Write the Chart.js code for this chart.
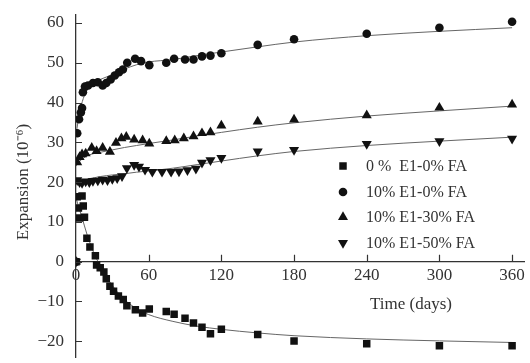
<!DOCTYPE html>
<html>
<head>
<meta charset="utf-8">
<script src="https://cdn.jsdelivr.net/npm/chart.js@4.4.1/dist/chart.umd.min.js"></script>
<style>
  html, body { margin: 0; padding: 0; background: #fff; }
</style>
</head>
<body>
<canvas id="expChart" width="530" height="363"></canvas>
<script>
// measured expansion, 10^-6, against age in days
const seriesLabels = ["0 %  E1-0% FA", "10% E1-0% FA", "10% E1-30% FA", "10% E1-50% FA"];

const sqDays = [0, 1, 2, 3, 5, 6, 7, 9, 11.5, 16, 17, 20, 23, 25, 28, 31, 35, 39, 42, 49, 55, 60.5, 74.5, 81, 90, 97, 104, 111, 120, 150, 180, 240, 300, 360];
const sqVals = [0, 16.3, 13.5, 11, 16.5, 14, 11.2, 5.9, 3.7, 1.5, -0.8, -1.5, -2.6, -4.3, -6.2, -7.4, -8.6, -9.5, -11.1, -12.1, -12.9, -11.9, -12.5, -13.2, -14.2, -15.4, -16.5, -18.1, -17, -18.3, -19.9, -20.6, -21.1, -21.1];

const ciDays = [0, 1, 2.5, 4, 5, 5.7, 7.4, 10, 14, 18, 22, 25, 28.6, 32, 35.5, 38.7, 42.3, 48.8, 53.7, 60.5, 74.5, 81, 90, 97, 104, 111, 120, 150, 180, 240, 300, 360];
const ciVals = [0, 32.3, 35.8, 37.5, 38.6, 42.6, 44, 44.3, 44.9, 45.1, 44.3, 44.9, 45.8, 46.8, 47.6, 48.3, 50, 51, 50.4, 49.4, 50, 51, 50.8, 50.8, 51.6, 51.8, 52.4, 54.5, 55.9, 57.3, 58.8, 60.3];

const upDays = [0, 1, 3, 5, 8, 13, 17, 22, 28, 33, 37.5, 41.5, 48, 55, 60.5, 74.5, 81.5, 89, 97, 104, 111, 120, 150, 180, 240, 300, 360];
const upVals = [0, 25, 26.3, 27, 27.2, 28.6, 27.8, 28.6, 27.6, 29.9, 31, 31.4, 30.7, 30.5, 29.7, 30.3, 30.5, 31, 31.5, 32.3, 32.5, 34.2, 35.2, 35.7, 36.8, 38.7, 39.5];

const dnDays = [0, 1, 3, 5, 8, 11, 14, 18, 22, 26, 30, 34, 38, 42, 48, 52, 57, 63, 71, 78.5, 85, 92, 99, 104, 111, 120, 150, 180, 240, 300, 360];
const dnVals = [0, 20.5, 20, 19.8, 20.2, 20, 20.3, 20.4, 20.6, 20.5, 20.8, 21, 21.5, 23.5, 24.3, 23.9, 23.1, 22.6, 22.6, 22.6, 22.7, 23, 23.4, 24.9, 25.5, 26.1, 27.7, 28.1, 29.6, 30.3, 30.9];

// fitted trend lines
const fitDays = [0, 3, 6, 10, 15, 20, 30, 40, 50, 60, 80, 100, 120, 150, 180, 240, 300, 360];
const fitSq = [16, 13, 10, 6, 2, -1, -6, -9.5, -11.8, -13.3, -15, -16.2, -17, -17.9, -18.6, -19.4, -19.9, -20.3];
const fitCi = [32, 37.5, 41, 43.5, 45, 45.8, 47, 48.4, 49.5, 50.2, 50.8, 51.8, 52.7, 54, 55.2, 56.8, 57.9, 58.8];
const fitUp = [24, 25.2, 26, 26.7, 27.2, 27.5, 28.1, 28.7, 29.2, 29.7, 30.6, 31.6, 32.5, 33.8, 34.9, 36.6, 37.9, 39.1];
const fitDn = [19.5, 20, 20.4, 20.8, 21.1, 21.4, 21.8, 22.1, 22.5, 22.8, 23.5, 24.4, 25.3, 26.6, 27.7, 29.2, 30.3, 31.3];

const xTicks = [0, 60, 120, 180, 240, 300, 360];
const yTicks = [-20, -10, 0, 10, 20, 30, 40, 50, 60];

const ink = "#111";
const textColor = "#333";
const serif = "'Liberation Serif', 'Times New Roman', serif";

const toPoints = (xs, ys) => xs.map((x, i) => ({ x: x, y: ys[i] }));

const markerStyles = [
  { pointStyle: "rect", radius: 5.3, rotation: 0 },
  { pointStyle: "circle", radius: 4.3, rotation: 0 },
  { pointStyle: "triangle", radius: 5.8, rotation: 0 },
  { pointStyle: "triangle", radius: 5.8, rotation: 180 },
];

function markerSet(label, xs, ys, m) {
  return {
    type: "scatter",
    label: label,
    data: toPoints(xs, ys),
    pointStyle: m.pointStyle,
    pointRadius: m.radius,
    pointRotation: m.rotation,
    pointBackgroundColor: ink,
    pointBorderColor: ink,
    pointBorderWidth: 0,
    showLine: false,
    order: 0,
  };
}

function fitSet(ys) {
  return {
    type: "line",
    label: "",
    data: toPoints(fitDays, ys),
    borderColor: "#666",
    borderWidth: 1,
    pointRadius: 0,
    cubicInterpolationMode: "monotone",
    fill: false,
    order: 1,
  };
}

const annotations = {
  id: "annotations",
  afterDraw(chart) {
    const ctx = chart.ctx;
    const xs = chart.scales.x;
    const ys = chart.scales.y;
    const area = chart.chartArea;
    const zeroY = ys.getPixelForValue(0);

    // inward tick marks
    ctx.save();
    ctx.strokeStyle = "#333";
    ctx.lineWidth = 1.2;
    ctx.beginPath();
    yTicks.forEach((v) => {
      const py = Math.round(ys.getPixelForValue(v)) + 0.5;
      ctx.moveTo(area.left, py);
      ctx.lineTo(area.left + 6, py);
    });
    xTicks.forEach((v) => {
      if (v === 0) return;
      const px = Math.round(xs.getPixelForValue(v)) + 0.5;
      ctx.moveTo(px, zeroY);
      ctx.lineTo(px, zeroY - 7);
    });
    ctx.stroke();

    // axis titles
    ctx.fillStyle = textColor;
    ctx.font = "17px " + serif;
    ctx.textAlign = "center";
    ctx.textBaseline = "middle";
    ctx.fillText("Time (days)", 411, 305);

    ctx.save();
    ctx.translate(24, 182);
    ctx.rotate(-Math.PI / 2);
    ctx.fillText("Expansion (10\u207B\u2076)", 0, 0);
    ctx.restore();

    // legend
    const rows = [166, 192, 217, 243];
    ctx.font = "16px " + serif;
    ctx.textAlign = "left";
    seriesLabels.forEach((label, i) => {
      const m = markerStyles[i];
      ctx.fillStyle = ink;
      ctx.strokeStyle = ink;
      Chart.helpers.drawPoint(ctx, { pointStyle: m.pointStyle, radius: m.radius, rotation: m.rotation, borderWidth: 0 }, 343, rows[i]);
      ctx.fillStyle = textColor;
      ctx.fillText(label, 366, rows[i] + 1);
    });
    ctx.restore();
  },
};

new Chart(document.getElementById("expChart"), {
  data: {
    datasets: [
      markerSet(seriesLabels[0], sqDays, sqVals, markerStyles[0]),
      markerSet(seriesLabels[1], ciDays, ciVals, markerStyles[1]),
      markerSet(seriesLabels[2], upDays, upVals, markerStyles[2]),
      markerSet(seriesLabels[3], dnDays, dnVals, markerStyles[3]),
      fitSet(fitSq),
      fitSet(fitCi),
      fitSet(fitUp),
      fitSet(fitDn),
    ],
  },
  options: {
    responsive: false,
    animation: false,
    layout: { padding: { top: 15, right: 2, bottom: 0, left: 0 } },
    plugins: {
      legend: { display: false },
      tooltip: { enabled: false },
    },
    scales: {
      x: {
        type: "linear",
        min: 0,
        max: 370,
        position: { y: 0 },
        grid: { display: false, drawTicks: false },
        border: { display: true, color: "#333", width: 1.3 },
        afterBuildTicks(scale) {
          scale.ticks = xTicks.map((v) => ({ value: v }));
        },
        afterFit(scale) {
          scale.paddingLeft = 0;
          scale.paddingRight = 0;
        },
        ticks: {
          padding: 4,
          color: textColor,
          font: { family: serif, size: 17 },
          maxRotation: 0,
        },
      },
      y: {
        type: "linear",
        min: -24,
        max: 62,
        position: "left",
        grid: { display: false, drawTicks: false },
        border: { display: true, color: "#333", width: 1.3 },
        afterBuildTicks(scale) {
          scale.ticks = yTicks.map((v) => ({ value: v }));
        },
        afterFit(scale) {
          scale.width = 76;
          scale.paddingTop = 0;
          scale.paddingBottom = 0;
        },
        ticks: {
          padding: 12,
          color: textColor,
          font: { family: serif, size: 17 },
          callback: (v) => (v < 0 ? "\u2212" + Math.abs(v) : String(v)),
        },
      },
    },
  },
  plugins: [annotations],
});
</script>
</body>
</html>
